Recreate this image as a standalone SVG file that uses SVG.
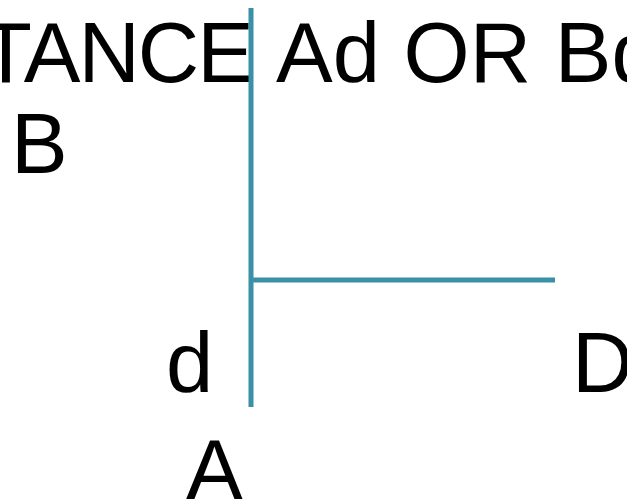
<svg xmlns="http://www.w3.org/2000/svg" width="627" height="501" viewBox="0 0 627 501">
<style>
.t{font-family:"Liberation Sans",Arial,sans-serif;font-size:85px;fill:#000}
.c{stroke:#3a90a6;stroke-width:5;fill:none}
</style>
<rect width="627" height="501" fill="#fff"/>
<g id="title">
<text class="t" x="-20" y="82" textLength="274" lengthAdjust="spacing">TANCE</text>
<text class="t" x="276" y="82">Ad OR Bd</text>
</g>
<g id="B"><text class="t" x="11" y="173">B</text></g>
<g id="d"><text class="t" x="166" y="392">d</text></g>
<g id="D"><text class="t" x="572" y="392">D</text></g>
<g id="A"><text class="t" x="186" y="499">A</text></g>
<g id="connectors">
<line class="c" x1="251" y1="8" x2="251" y2="407"/>
<line class="c" x1="251" y1="280" x2="555" y2="280"/>
</g>
</svg>
